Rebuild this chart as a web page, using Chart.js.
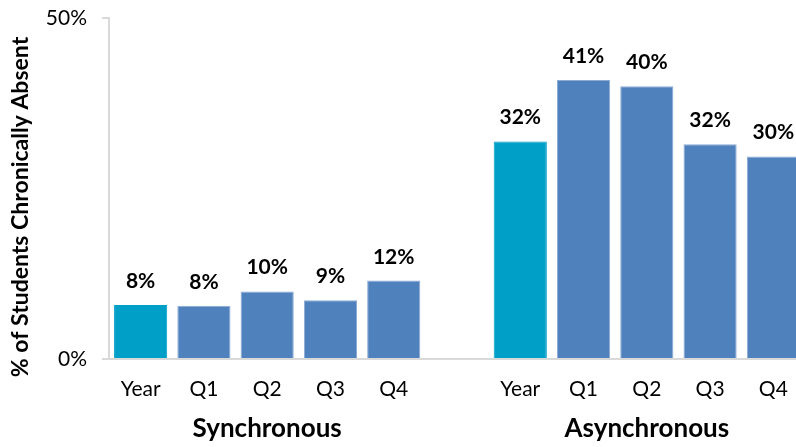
<!DOCTYPE html>
<html lang="en">
<head>
    <meta charset="UTF-8">
    <title>Chronic Absence by Learning Mode</title>
    <script src="https://cdn.jsdelivr.net/npm/chart.js"></script>
    <style>
        html, body {
            margin: 0;
            padding: 0;
            background: white;
            overflow: hidden;
        }
        #wrap {
            width: 805px;
            height: 447px;
        }
    </style>
</head>
<body>
    <div id="wrap"><canvas id="absentChart" width="805" height="447"></canvas></div>

    <script>
        const periods = ["Year", "Q1", "Q2", "Q3", "Q4"];
        const groups = ["Synchronous", "Asynchronous"];
        const synchronous = [7.9, 7.8, 9.9, 8.6, 11.5];
        const asynchronous = [31.9, 40.9, 40.0, 31.5, 29.7];
        const yTicks = [0, 50];

        const yearColor = "#009fc8";
        const quarterColor = "#4f81bd";
        const fontFamily = "Lato, 'Open Sans', sans-serif";

        // one empty slot between the two groups
        const labels = [...periods, "", ...periods];
        const values = [...synchronous, null, ...asynchronous];
        const colors = labels.map(l => l === "Year" ? yearColor : quarterColor);
        const borders = labels.map(l => l === "Year" ? yearColor : "#8eaad6");

        const barLabels = {
            id: "barLabels",
            afterDatasetsDraw(chart) {
                const ctx = chart.ctx;
                const meta = chart.getDatasetMeta(0);
                ctx.save();
                ctx.font = "bold 21px " + fontFamily;
                ctx.fillStyle = "#000";
                ctx.textAlign = "center";
                ctx.textBaseline = "alphabetic";
                meta.data.forEach((bar, i) => {
                    if (values[i] === null) return;
                    ctx.fillText(Math.round(values[i]) + "%", bar.x, bar.y - 17);
                });
                ctx.restore();
            }
        };

        const groupLabels = {
            id: "groupLabels",
            afterDraw(chart) {
                const ctx = chart.ctx;
                const x = chart.scales.x;
                ctx.save();
                ctx.font = "bold 26px " + fontFamily;
                ctx.fillStyle = "#000";
                ctx.textAlign = "center";
                ctx.textBaseline = "middle";
                ctx.fillText(groups[0], x.getPixelForValue(2), 429);
                ctx.fillText(groups[1], x.getPixelForValue(8), 429);

                // y axis title
                ctx.translate(21, 207);
                ctx.rotate(-Math.PI / 2);
                ctx.font = "bold 23px " + fontFamily;
                ctx.fillText("% of Students Chronically Absent", 0, 0);
                ctx.restore();
            }
        };

        const ctx = document.getElementById("absentChart").getContext("2d");
        const chart = new Chart(ctx, {
            type: "bar",
            data: {
                labels: labels,
                datasets: [{
                    data: values,
                    backgroundColor: colors,
                    borderColor: borders,
                    borderWidth: 1,
                    categoryPercentage: 1.0,
                    barPercentage: 0.84
                }]
            },
            options: {
                responsive: false,
                animation: false,
                devicePixelRatio: 1,
                layout: { padding: { top: 18, left: 0, right: 0, bottom: 0 } },
                plugins: {
                    legend: { display: false },
                    tooltip: { enabled: false }
                },
                scales: {
                    x: {
                        grid: { display: false },
                        border: { display: true, color: "#d9d9d9", width: 2 },
                        ticks: {
                            color: "#000",
                            font: { family: fontFamily, size: 21 },
                            padding: 10,
                            maxRotation: 0,
                            autoSkip: false
                        },
                        afterFit(scale) { scale.height = 88; }
                    },
                    y: {
                        min: 0,
                        max: 50,
                        afterBuildTicks(scale) {
                            scale.ticks = yTicks.map(v => ({ value: v }));
                        },
                        grid: {
                            drawOnChartArea: false,
                            drawTicks: true,
                            tickLength: 7,
                            color: "#d9d9d9",
                            lineWidth: 2
                        },
                        border: { display: true, color: "#d9d9d9", width: 2 },
                        ticks: {
                            color: "#000",
                            font: { family: fontFamily, size: 21 },
                            padding: 15,
                            callback: v => v + "%"
                        },
                        afterFit(scale) {
                            scale.width = 109;
                            scale.paddingTop = 0;
                            scale.paddingBottom = 0;
                        }
                    }
                }
            },
            plugins: [barLabels, groupLabels]
        });
    </script>
</body>
</html>
